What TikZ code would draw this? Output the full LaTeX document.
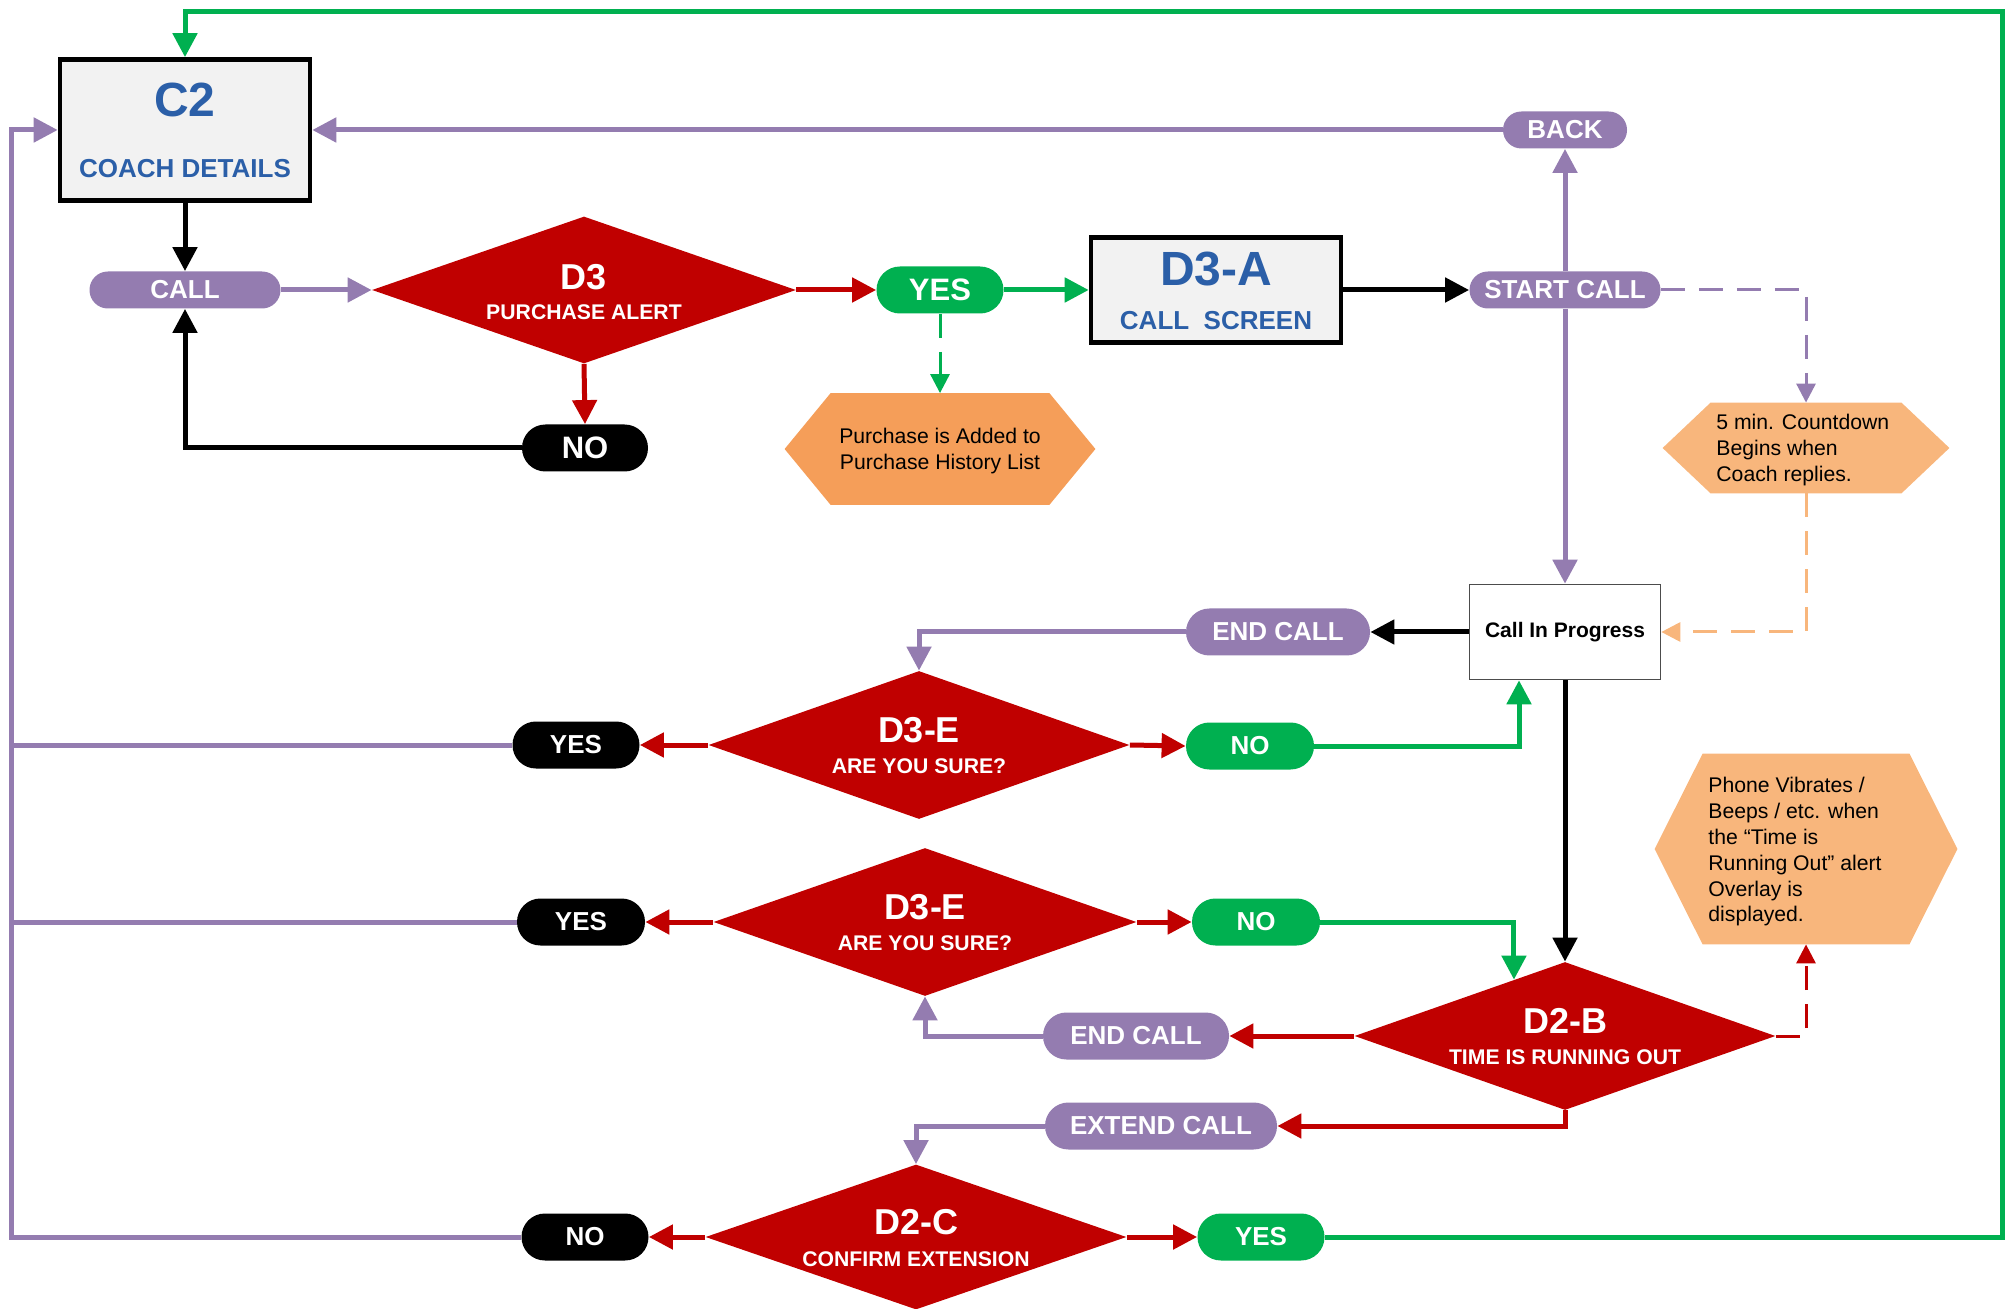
\documentclass[tikz,border=0pt]{standalone}
\usepackage{fontspec}
\setmainfont{Liberation Sans}
\usetikzlibrary{shapes.geometric,arrows.meta,calc}
\definecolor{pur}{HTML}{947CB0}
\definecolor{rd}{HTML}{C00000}
\definecolor{gr}{HTML}{00B050}
\definecolor{bl}{HTML}{2B5FA8}
\definecolor{boxfill}{HTML}{F2F2F2}
\definecolor{orA}{HTML}{F59E59}
\definecolor{orB}{HTML}{F8B67C}
\newcommand\hexfill[3]{\fill[#2] (#1.west) -- ([xshift=#3]#1.north west) -- ([xshift=-#3]#1.north east) -- (#1.east) -- ([xshift=-#3]#1.south east) -- ([xshift=#3]#1.south west) -- cycle;}
\begin{document}
\begin{tikzpicture}[x=0.5pt,y=-0.5pt,
  pillS/.style={rectangle, rounded corners=9.2pt, minimum height=18.5pt, inner sep=0pt, fill=pur, text=white, font=\fontsize{13}{15}\selectfont\bfseries},
  pillL/.style={rectangle, rounded corners=11.7pt, minimum height=23.5pt, inner sep=0pt, text=white, font=\fontsize{13}{15}\selectfont\bfseries},
  decision/.style={diamond, fill=rd, inner sep=0pt},
  screen/.style={rectangle, draw=black, line width=2.3pt, fill=boxfill, inner sep=0pt},
  dtitle/.style={text=white, font=\fontsize{18}{20}\selectfont\bfseries, inner sep=0pt},
  dsub/.style={text=white, font=\fontsize{10.6}{12}\selectfont\bfseries, inner sep=0pt},
  btitle/.style={text=bl, font=\fontsize{24}{26}\selectfont\bfseries, inner sep=0pt},
  bsub/.style={text=bl, font=\fontsize{13}{15}\selectfont\bfseries, inner sep=0pt},
  note/.style={font=\fontsize{10.6}{12.9}\selectfont, inner sep=0pt},
  hexbox/.style={rectangle, inner sep=0pt},
  cn/.style={line width=2.5pt, -{Triangle[length=12pt,width=12pt]}},
  cnl/.style={line width=2.5pt},
  dsh/.style={line width=1.5pt, dash pattern=on 12pt off 7pt, -{Triangle[length=9.5pt,width=9.5pt]}}
]
\useasboundingbox (0,0) rectangle (2012,1309);
\coordinate (lx) at (11.5,0);

% boxes
\node (c2) [screen, minimum width=125pt, minimum height=70.5pt] at (185,130) {};
\node (c2t) [btitle] at (185,100) {C2};
\node (c2s) [bsub] at (185,169) {COACH DETAILS};
\node (d3a) [screen, minimum width=125pt, minimum height=52.5pt] at (1216,290) {};
\node (d3at) [btitle] at (1216,269) {D3-A};
\node (d3as) [bsub] at (1216,321) {CALL\ \ SCREEN};
\node (cip) [rectangle, draw=black!70, line width=0.8pt, fill=white, minimum width=95.5pt, minimum height=47.5pt, inner sep=0pt, font=\fontsize{10.5}{12}\selectfont\bfseries] at (1565,632) {Call In Progress};

% hexagons
\node (purch) [hexbox, minimum width=155pt, minimum height=55.5pt] at (940,449) {};
\hexfill{purch}{orA}{23pt}
\node (purcht) [note, align=center] at (940,451) {Purchase is Added to\\Purchase History List};
\node (cd) [hexbox, minimum width=143pt, minimum height=45pt] at (1806,448) {};
\hexfill{cd}{orB}{24pt}
\node (cdt) [note, align=left, anchor=west] at (1716,450) {5 min. Countdown\\Begins when\\Coach replies.};
\node (ph) [hexbox, minimum width=151pt, minimum height=95pt] at (1806,849) {};
\hexfill{ph}{orB}{24pt}
\node (pht) [note, align=left, anchor=west] at (1708,852) {Phone Vibrates /\\Beeps / etc. when\\the “Time is\\Running Out” alert\\Overlay is\\displayed.};

% diamonds
\node (d3) [decision, minimum width=212pt, minimum height=73.5pt] at (584,290) {};
\node (d3t) [dtitle] at (584,277) {D3};
\node (d3s) [dsub] at (584,312) {PURCHASE ALERT};
\node (d3e1) [decision, minimum width=210.5pt, minimum height=74pt] at (919,745) {};
\node (d3e1t) [dtitle] at (919,730) {D3-E};
\node (d3e1s) [dsub] at (919,766) {ARE YOU SURE?};
\node (d3e2) [decision, minimum width=211.5pt, minimum height=74pt] at (925,922) {};
\node (d3e2t) [dtitle] at (925,907) {D3-E};
\node (d3e2s) [dsub] at (925,943) {ARE YOU SURE?};
\node (d2b) [decision, minimum width=210.5pt, minimum height=74pt] at (1565,1036) {};
\node (d2bt) [dtitle] at (1565,1021) {D2-B};
\node (d2bs) [dsub] at (1565,1057) {TIME IS RUNNING OUT};
\node (d2c) [decision, minimum width=210.5pt, minimum height=72.5pt] at (916,1237) {};
\node (d2ct) [dtitle] at (916,1222) {D2-C};
\node (d2cs) [dsub] at (916,1259) {CONFIRM EXTENSION};

% pills
\node (call) [pillS, minimum width=95.5pt] at (185,290) {CALL};
\node (back) [pillS, minimum width=62pt] at (1565,130) {BACK};
\node (start) [pillS, minimum width=95.5pt] at (1565,290) {START CALL};
\node (no0) [pillL, fill=black, minimum width=63pt, font=\fontsize{15.5}{17}\selectfont\bfseries] at (585,448) {NO};
\node (yes0) [pillL, fill=gr, minimum width=63.5pt, font=\fontsize{15.5}{17}\selectfont\bfseries] at (940,290) {YES};
\node (end1) [pillL, fill=pur, minimum width=92pt] at (1278,632) {END CALL};
\node (yes1) [pillL, fill=black, minimum width=63.5pt] at (576,745) {YES};
\node (no1) [pillL, fill=gr, minimum width=64pt] at (1250,746) {NO};
\node (yes2) [pillL, fill=black, minimum width=64pt] at (581,922) {YES};
\node (no2) [pillL, fill=gr, minimum width=64pt] at (1256,922) {NO};
\node (end2) [pillL, fill=pur, minimum width=93pt] at (1136,1036) {END CALL};
\node (ext) [pillL, fill=pur, minimum width=116pt] at (1161,1126) {EXTEND CALL};
\node (no3) [pillL, fill=black, minimum width=63.5pt] at (585,1237) {NO};
\node (yes3) [pillL, fill=gr, minimum width=63.5pt] at (1261,1237) {YES};

\coordinate (d2bin) at ($(d2b.west)!0.758!(d2b.north)$);

% connectors
\draw[cn, gr] (yes3.east) -| (2002,11.5) -| (c2.north);
\draw[cn, pur] (no3.west) -| (11.5,130) -- (c2.west);
\draw[cnl, pur] (yes1.west) -- (yes1.west -| lx);
\draw[cnl, pur] (yes2.west) -- (yes2.west -| lx);
\draw[cn, pur] (back.west) -- (c2.east);
\draw[cn, black] (c2.south) -- (call.north);
\draw[cn, pur] (call.east) -- (d3.west);
\draw[cn, rd] (d3.south) -- (no0.north);
\draw[cn, black] (no0.west) -| (call.south);
\draw[cn, rd] (d3.east) -- (yes0.west);
\draw[cn, gr] (yes0.east) -- (d3a.west);
\draw[dsh, gr] (yes0.south) -- (purch.north);
\draw[cn, black] (d3a.east) -- (start.west);
\draw[cn, pur] (start.north) -- (back.south);
\draw[cn, pur] (start.south) -- (cip.north);
\draw[dsh, pur] (start.east) -| (cd.north);
\draw[dsh, orB] (cd.south) |- (cip.east);
\draw[cn, black] (cip.west) -- (end1.east);
\draw[cn, pur] (end1.west) -| (d3e1.north);
\draw[cn, rd] (d3e1.west) -- (yes1.east);
\draw[cn, rd] (d3e1.east) -- (no1.west);
\draw[cn, gr] (no1.east) -| ([xshift=-23pt]cip.south);
\draw[cn, black] (cip.south) -- (d2b.north);
\draw[cn, rd] (d3e2.west) -- (yes2.east);
\draw[cn, rd] (d3e2.east) -- (no2.west);
\draw[cn, gr] (no2.east) -| (d2bin);
\draw[cn, rd] (d2b.west) -- (end2.east);
\draw[cn, pur] (end2.west) -| (d3e2.south);
\draw[dsh, rd] (d2b.east) -| (ph.south);
\draw[cn, rd] (d2b.south) |- (ext.east);
\draw[cn, pur] (ext.west) -| (d2c.north);
\draw[cn, rd] (d2c.west) -- (no3.east);
\draw[cn, rd] (d2c.east) -- (yes3.west);
\end{tikzpicture}
\end{document}
